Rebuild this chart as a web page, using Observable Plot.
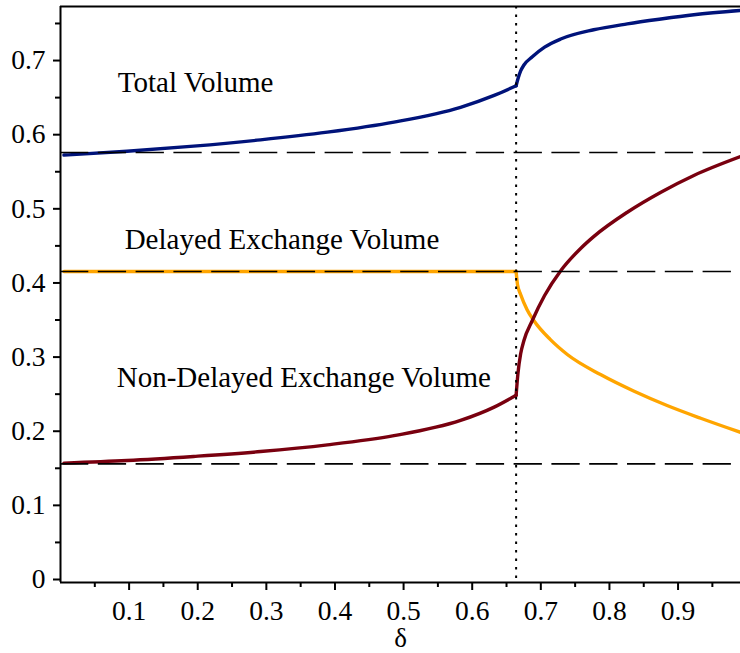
<!DOCTYPE html>
<html>
<head>
<meta charset="utf-8">
<script src="https://cdn.jsdelivr.net/npm/d3@7"></script>
<script src="https://cdn.jsdelivr.net/npm/@observablehq/plot@0.6"></script>
<style>
  html, body { margin: 0; padding: 0; background: #fff; }
  #chart svg { display: block; }
</style>
</head>
<body>
<div id="chart"></div>
<script>
// ---- data ----
const threshold = 0.664;                 // vertical dotted line (δ)
const limits = [0.576, 0.4155, 0.156];   // horizontal dashed reference levels

// before the threshold (all three series share these δ samples)
const xPre = [0.005, 0.097, 0.194, 0.2915, 0.389, 0.486, 0.583, 0.632, 0.664];
const totalPre = [0.5725, 0.5777, 0.5845, 0.593, 0.6034, 0.617, 0.637, 0.653, 0.666];
const nonDelayedPre = [0.157, 0.1605, 0.166, 0.1726, 0.1816, 0.194, 0.2145, 0.2325, 0.2485];
const delayedPre = [0.4155, 0.4155, 0.4155, 0.4155, 0.4155, 0.4155, 0.4155, 0.4155, 0.4155];

// after the threshold
const totalPostX = [0.664, 0.6666, 0.6706, 0.6754, 0.6876, 0.7055, 0.729, 0.777, 0.826, 0.875, 0.923, 0.991];
const totalPostY = [0.666, 0.675, 0.686, 0.694, 0.705, 0.718, 0.729, 0.7415, 0.7495, 0.756, 0.7617, 0.7675];

const nonDelayedPostX = [0.664, 0.6666, 0.6706, 0.6754, 0.6876, 0.7055, 0.729, 0.758, 0.777, 0.826, 0.875, 0.923, 0.991];
const nonDelayedPostY = [0.2485, 0.2774, 0.3044, 0.3224, 0.3493, 0.383, 0.4165, 0.4465, 0.4625, 0.4954, 0.5224, 0.545, 0.5705];

const delayedPostX = [0.664, 0.666, 0.6706, 0.680, 0.690, 0.714, 0.7386, 0.787, 0.836, 0.884, 0.933, 0.991];
const delayedPostY = [0.4155, 0.398, 0.3845, 0.364, 0.349, 0.3235, 0.3035, 0.2764, 0.2539, 0.2347, 0.2175, 0.1985];

// annotation labels
const labelText = ["Total Volume", "Delayed Exchange Volume", "Non-Delayed Exchange Volume"];
const labelX = [0.0835, 0.0935, 0.082];
const labelY = [0.670, 0.4586, 0.2725];

// ticks
const xMajor = [0.1, 0.2, 0.3, 0.4, 0.5, 0.6, 0.7, 0.8, 0.9];
const xMinor = [0.05, 0.15, 0.25, 0.35, 0.45, 0.55, 0.65, 0.75, 0.85, 0.95];
const yMajor = [0, 0.1, 0.2, 0.3, 0.4, 0.5, 0.6, 0.7];
const yMinor = [0.05, 0.15, 0.25, 0.35, 0.45, 0.55, 0.65, 0.75];

const xDomain = [0, 0.991];
const yDomain = [-0.00405, 0.7729];

// ---- build rows ----
const colors = { total: "#00137a", delayed: "#ffa500", nonDelayed: "#79000f" };
function rows(series, seg, xs, ys) {
  return xs.map((x, i) => ({ x, y: ys[i], series, key: series + "-" + seg }));
}
const lineData = [
  ...rows("delayed", "pre", xPre, delayedPre),
  ...rows("delayed", "post", delayedPostX, delayedPostY),
  ...rows("nonDelayed", "pre", xPre, nonDelayedPre),
  ...rows("nonDelayed", "post", nonDelayedPostX, nonDelayedPostY),
  ...rows("total", "pre", xPre, totalPre),
  ...rows("total", "post", totalPostX, totalPostY)
];
const labels = labelText.map((t, i) => ({ t, x: labelX[i], y: labelY[i] }));

const serif = "'Liberation Serif', 'Times New Roman', Times, serif";

const chart = Plot.plot({
  width: 740,
  height: 653,
  marginLeft: 60,
  marginRight: 0,
  marginTop: 6,
  marginBottom: 71,
  style: { fontFamily: serif, background: "#fff", color: "#000" },
  x: { domain: xDomain },
  y: { domain: yDomain },
  marks: [
    Plot.line(lineData, {
      x: "x", y: "y", z: "key",
      stroke: d => colors[d.series],
      strokeWidth: 3.4, curve: "monotone-x"
    }),
    Plot.ruleY(limits, { stroke: "#000", strokeWidth: 1.6, strokeDasharray: "28.3,9.5" }),
    Plot.ruleX([threshold], { stroke: "#000", strokeWidth: 2, strokeDasharray: "2.5,6" }),
    // frame lines
    Plot.ruleX([xDomain[0]], { stroke: "#000", strokeWidth: 2 }),
    Plot.ruleY([yDomain[0], yDomain[1]], { stroke: "#000", strokeWidth: 2 }),
    // axes
    Plot.axisY(yMajor, { tickSize: 7, tickPadding: 8, fontSize: 27.5, fontFamily: serif, strokeWidth: 2, tickFormat: d => String(d), label: null }),
    Plot.axisY(yMinor, { tickSize: 5, strokeWidth: 2, tickFormat: () => "", label: null }),
    Plot.axisX(xMajor, { tickSize: 8, tickPadding: 10, fontSize: 27.5, fontFamily: serif, strokeWidth: 2, tickFormat: d => String(d), label: null }),
    Plot.axisX(xMinor, { tickSize: 5, strokeWidth: 2, tickFormat: () => "", label: null }),
    Plot.text(["δ"], { frameAnchor: "bottom", dy: 56, fontSize: 27, fontFamily: serif, lineAnchor: "middle", fill: "#000" }),
    // annotations
    Plot.text(labels, { x: "x", y: "y", text: "t", textAnchor: "start", lineAnchor: "middle", fontSize: 29, fontFamily: serif, fill: "#000" })
  ]
});
document.getElementById("chart").appendChild(chart);
</script>
</body>
</html>
